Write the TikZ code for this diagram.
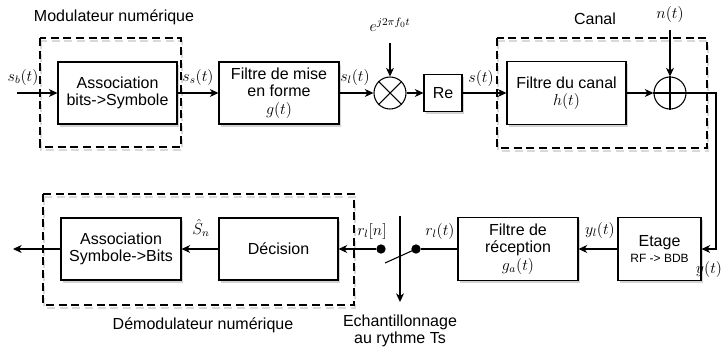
\documentclass[tikz,border=0pt]{standalone}
\usepackage{amsmath,amssymb}
\usepackage{fontspec}
\setmainfont{Liberation Sans}
\usetikzlibrary{arrows.meta,shadows}

\tikzset{
  bloc/.style={draw, fill=white, line width=0.8pt, align=center, inner sep=1pt,
    font=\fontsize{12}{13}\selectfont,
    drop shadow={shadow xshift=1.8pt, shadow yshift=-2.2pt, opacity=0.35}},
  rond/.style={draw, fill=white, circle, line width=0.8pt, minimum size=24pt, inner sep=0pt},
  cadre/.style={line width=1pt, dash pattern=on 6pt off 3.5pt},
  fleche/.style={line width=0.8pt, -{Stealth[length=6.5pt, width=6pt, inset=2pt]}},
  lien/.style={line width=0.8pt},
  etiq/.style={inner sep=0.75pt, font=\fontsize{12}{13}\selectfont},
  point/.style={circle, fill=black, minimum size=7pt, inner sep=0pt}
}

\begin{document}
\begin{tikzpicture}[x=0.75pt,y=0.75pt,yscale=-1,xscale=1]

\useasboundingbox (0,0) rectangle (723,346);

% cadres en pointilles
\draw [cadre, black!15] (41,41) rectangle (182,150);
\draw [cadre] (40,38) rectangle (181,147);
\draw [cadre, black!15] (498,41) rectangle (708,151);
\draw [cadre] (497,38) rectangle (707,148);
\draw [cadre, black!15] (44,197) rectangle (355,308);
\draw [cadre] (43,194) rectangle (354,305);

\draw (114,17) node [etiq] (modlab) {Modulateur numérique};
\draw (595,19) node [etiq] (canlab) {Canal};
\draw (203,325) node [etiq] (demlab) {Démodulateur numérique};

% chaine d'emission
\draw (117.5,93) node [bloc, minimum width=89.25pt, minimum height=46.5pt] (assoc) {Association\\bits->Symbole};
\draw (279,93) node [bloc, minimum width=90pt, minimum height=46.5pt] (mise) {Filtre de mise\\en forme\\$g(t)$};
\draw (390,93) node [rond] (mult) {};
\draw (443,93) node [bloc, minimum width=28.5pt, minimum height=27.75pt] (re) {Re};
\draw (566.5,93) node [bloc, minimum width=89.25pt, minimum height=47.25pt] (canf) {Filtre du canal\\$h(t)$};
\draw (670,93) node [rond] (somme) {};

\draw [lien] (mult.north west) -- (mult.south east) (mult.north east) -- (mult.south west);
\draw [lien] (somme.north) -- (somme.south) (somme.west) -- (somme.east);

\coordinate (entree) at (17,93);
\coordinate (porteuse) at (390,43);
\coordinate (bruit) at (670,30);
\coordinate (coin) at (716,93);
\coordinate (coinbas) at (716,249);

\draw [fleche] (entree) -- (assoc);
\draw [fleche] (assoc) -- (mise);
\draw [fleche] (mise) -- (mult);
\draw [fleche] (porteuse) -- (mult);
\draw [fleche] (mult) -- (re);
\draw [fleche] (re) -- (canf);
\draw [fleche] (canf) -- (somme);
\draw [fleche] (bruit) -- (somme);

\draw (23,77) node [etiq] (sb) {$s_b(t)$};
\draw (198,77) node [etiq] (ss) {$s_s(t)$};
\draw (355,77) node [etiq] (sl) {$s_l(t)$};
\draw (390,25) node [etiq] (expo) {$e^{j2\pi f_0 t}$};
\draw (481,78) node [etiq] (st) {$s(t)$};
\draw (670,15) node [etiq] (nt) {$n(t)$};

% chaine de reception
\draw (659.5,249) node [bloc, minimum width=62.25pt, minimum height=47.25pt] (etage) {Etage\\[-1pt]{\fontsize{9}{10}\selectfont RF -> BDB}};
\draw (518,249) node [bloc, minimum width=90pt, minimum height=47.25pt] (recep) {Filtre de\\réception\\$g_a(t)$};
\draw (278.5,249) node [bloc, minimum width=89.25pt, minimum height=46.5pt] (decis) {Décision};
\draw (121,249) node [bloc, minimum width=90pt, minimum height=46.5pt] (assocb) {Association\\Symbole->Bits};

\draw (416,249) node [point] (dotd) {};
\draw (381,249) node [point] (dotg) {};
\coordinate (intop) at (400,216);
\coordinate (inbas) at (400,302);
\coordinate (lame) at (385,263);
\coordinate (sortie) at (13,249);

\draw [fleche] (somme) -- (coin) -- (coinbas) -- (etage);
\draw [fleche] (etage) -- (recep);
\draw [lien] (recep) -- (dotd);
\draw [lien] (lame) -- (dotd.center);
\draw [fleche] (intop) -- (inbas);
\draw [fleche] (dotg) -- (decis);
\draw [fleche] (decis) -- (assocb);
\draw [fleche] (assocb) -- (sortie);

\draw (709,269) node [etiq] (yt) {$y(t)$};
\draw (600,230) node [etiq] (ylt) {$y_l(t)$};
\draw (440,231) node [etiq] (rlt) {$r_l(t)$};
\draw (372,231) node [etiq] (rln) {$r_l[n]$};
\draw (201,228) node [etiq] (sn) {$\hat{S}_n$};
\draw (400,331) node [etiq, align=center] (echlab) {Echantillonnage\\au rythme Ts};

\end{tikzpicture}
\end{document}
